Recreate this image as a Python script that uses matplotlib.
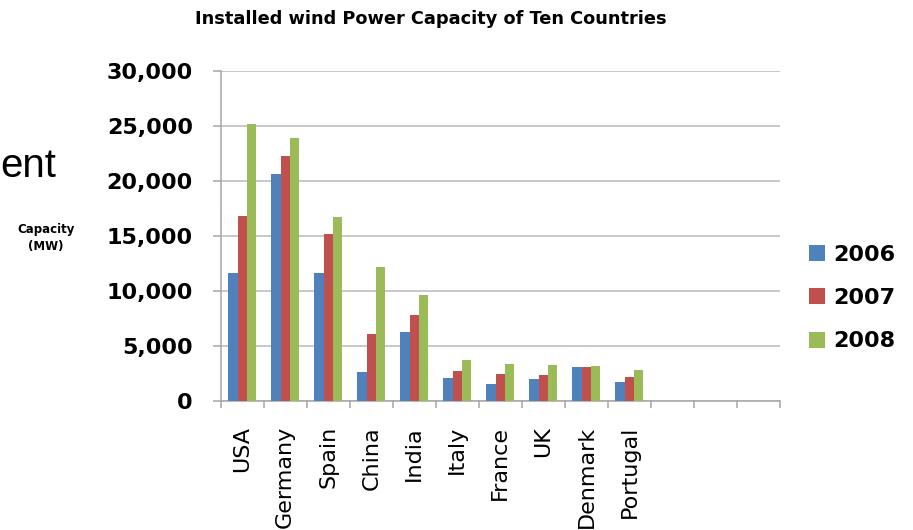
import numpy as np
import matplotlib
matplotlib.use('Agg')
import matplotlib.pyplot as plt

# values, MW
countries = ['USA', 'Germany', 'Spain', 'China', 'India', 'Italy', 'France', 'UK', 'Denmark', 'Portugal']
years = ['2006', '2007', '2008']
cap_2006 = [11600, 20600, 11600, 2600, 6270, 2120, 1570, 1960, 3130, 1720]
cap_2007 = [16800, 22250, 15150, 6050, 7850, 2730, 2450, 2390, 3120, 2150]
cap_2008 = [25170, 23900, 16750, 12210, 9640, 3740, 3400, 3290, 3160, 2860]
y_ticks = [0, 5000, 10000, 15000, 20000, 25000, 30000]
n_slots = 13  # the original axis has three empty category slots on the right

colors = ['#4F81BD', '#C0504D', '#9BBB59']
grid_color = '#BFBFBF'
axis_color = '#A6A6A6'

fig = plt.figure(figsize=(9.13, 5.30), dpi=100)
ax = fig.add_axes([220.7 / 913, 1 - 401 / 530, (780 - 220.7) / 913, (401 - 70.7) / 530])

x = np.arange(len(countries))
w = 0.217
for i, vals in enumerate([cap_2006, cap_2007, cap_2008]):
    ax.bar(x + (i - 1) * w, vals, width=w, color=colors[i], label=years[i], zorder=3)

ax.set_xlim(-0.5, n_slots - 0.5)
ax.set_ylim(0, 30000)

# y axis
ax.set_yticks(y_ticks)
ax.set_yticklabels([f'{v:,}' for v in y_ticks], fontsize=16, fontweight='bold')
ax.tick_params(axis='y', length=6, width=1.1, color=axis_color, pad=14)
ax.grid(axis='y', color=grid_color, linewidth=1.2, zorder=0)

# x axis: labels at centres, tick marks on category boundaries
ax.set_xticks(x)
ax.set_xticklabels(countries, rotation=90, fontsize=16)
ax.tick_params(axis='x', which='major', length=0, pad=18)
ax.set_xticks(np.arange(-0.5, n_slots, 1), minor=True)
ax.tick_params(axis='x', which='minor', length=5, width=1.1, color=axis_color)

for side in ['top', 'right']:
    ax.spines[side].set_visible(False)
for side in ['left', 'bottom']:
    ax.spines[side].set_color(axis_color)
    ax.spines[side].set_linewidth(1.1)

ax.legend(loc='center left', bbox_to_anchor=(808.7 / 913, 1 - 298 / 530),
          bbox_transform=fig.transFigure, frameon=False, borderpad=0, borderaxespad=0,
          handlelength=0.73, handleheight=0.73, handletextpad=0.37, labelspacing=1.05,
          prop=dict(weight='bold', size=16))

fig.text(431 / 913, 1 - 19.5 / 530, 'Installed wind Power Capacity of Ten Countries',
         ha='center', va='center', fontsize=12.8, fontweight='bold')
fig.text(46 / 913, 1 - 238 / 530, 'Capacity\n(MW)', ha='center', va='center',
         fontsize=8.5, fontweight='bold', linespacing=1.4)

# leftover text from the slide behind the chart
fig.text(0, 1 - 176.7 / 530, 'ent', ha='left', va='baseline',
         fontsize=29, family='Liberation Sans')

fig.savefig('out.png', dpi=100)
